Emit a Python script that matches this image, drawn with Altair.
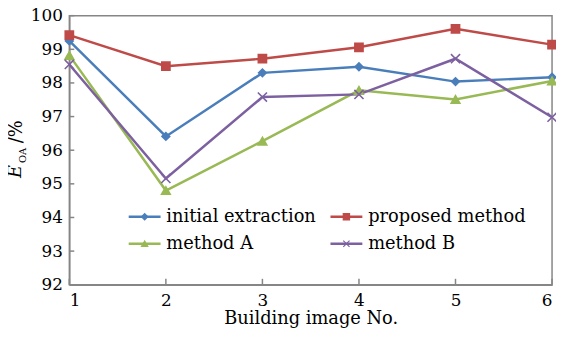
import altair as alt
import pandas as pd

image_no = [1, 2, 3, 4, 5, 6]
series_names = ["initial extraction", "proposed method", "method A", "method B"]
initial_extraction = [99.25, 96.41, 98.30, 98.48, 98.04, 98.17]
proposed_method = [99.42, 98.50, 98.72, 99.06, 99.61, 99.14]
method_a = [98.82, 94.80, 96.27, 97.78, 97.51, 98.06]
method_b = [98.55, 95.16, 97.58, 97.66, 98.72, 96.98]
y_ticks = [92, 93, 94, 95, 96, 97, 98, 99, 100]

colors = ["#4A7EBB", "#BE4B48", "#98B954", "#7D60A0"]
shapes = ["diamond", "square", "triangle-up", "M-1,-1L1,1M-1,1L1,-1"]
sizes = [60, 85, 70, 90]
FONT = "DejaVu Serif"
AXC = "#868686"

rows = []
for name, vals in zip(series_names, [initial_extraction, proposed_method, method_a, method_b]):
    for x, v in zip(image_no, vals):
        rows.append({"series": name, "x": x, "v": v})
df = pd.DataFrame(rows)

cscale = alt.Scale(domain=series_names, range=colors)
sscale = alt.Scale(domain=series_names, range=shapes)
zscale = alt.Scale(domain=series_names, range=sizes)

xs = alt.Scale(domain=[1, 6], nice=False)
ys = alt.Scale(domain=[92, 100], nice=False, zero=False)
x_axis = alt.Axis(values=image_no, format="d", title="Building image No.",
                  tickSize=0, labelPadding=8, titlePadding=1, grid=False,
                  labelOverlap=False, labelFont=FONT, labelFontSize=17,
                  labelColor="black", titleFont=FONT, titleFontSize=18,
                  titleFontWeight="normal", titleColor="black",
                  domainColor=AXC, domainWidth=1.5)
y_axis = alt.Axis(values=y_ticks, format="d", tickSize=0, title=None,
                  labelPadding=7, grid=False, labelOverlap=False,
                  labelFont=FONT, labelFontSize=17, labelColor="black",
                  domainColor=AXC, domainWidth=1.5)


def X(field):
    return alt.X(field, scale=xs, axis=x_axis)


def Y(field):
    return alt.Y(field, scale=ys, axis=y_axis)


lines = alt.Chart(df).mark_line(strokeWidth=2.5).encode(
    x=X("x:Q"), y=Y("v:Q"), color=alt.Color("series:N", scale=cscale, legend=None),
    detail="series:N")

points = alt.Chart(df).mark_point(filled=True, opacity=1, strokeWidth=1.6).encode(
    x=X("x:Q"), y=Y("v:Q"),
    fill=alt.Fill("series:N", scale=cscale, legend=None),
    stroke=alt.Stroke("series:N", scale=cscale, legend=None),
    shape=alt.Shape("series:N", scale=sscale, legend=None),
    size=alt.Size("series:N", scale=zscale, legend=None))

ytick = alt.Chart(pd.DataFrame({"v": y_ticks})).mark_rule(color=AXC, strokeWidth=1.5).encode(
    y=Y("v:Q"), x=alt.value(0), x2=alt.value(5))
xtick = alt.Chart(pd.DataFrame({"x": image_no})).mark_rule(color=AXC, strokeWidth=1.5).encode(
    x=X("x:Q"), y=alt.value(272), y2=alt.value(266))

# legend built from the series names (two columns, two rows)
leg_x0 = [1.615, 3.705]
leg_len = 0.33
leg_y = [94.02, 93.22]
leg_rows = []
for i, name in enumerate(series_names):
    c, r = i % 2, i // 2
    leg_rows.append({"series": name, "x": leg_x0[c], "lx1": leg_x0[c] + leg_len,
                     "lxm": leg_x0[c] + leg_len / 2, "lt": leg_x0[c] + leg_len + 0.06,
                     "v": leg_y[r]})
leg = pd.DataFrame(leg_rows)
leg_line = alt.Chart(leg).mark_rule(strokeWidth=2.5).encode(
    x=X("x:Q"), x2="lx1:Q", y=Y("v:Q"),
    color=alt.Color("series:N", scale=cscale, legend=None))
leg_pt = alt.Chart(leg).mark_point(filled=True, opacity=1, strokeWidth=1.2).encode(
    x=X("lxm:Q"), y=Y("v:Q"),
    fill=alt.Fill("series:N", scale=cscale, legend=None),
    stroke=alt.Stroke("series:N", scale=cscale, legend=None),
    shape=alt.Shape("series:N", scale=sscale, legend=None),
    size=alt.value(40))
leg_txt = alt.Chart(leg).mark_text(align="left", baseline="middle", font=FONT,
                                   fontSize=18, color="black").encode(
    x=X("lt:Q"), y=Y("v:Q"), text="series:N")

one = pd.DataFrame({"a": [0]})
t_e = alt.Chart(one).mark_text(text="E", angle=270, align="left", baseline="alphabetic",
                               font=FONT, fontSize=18, fontStyle="italic", color="black").encode(
    x=alt.value(-49), y=alt.value(164))
t_oa = alt.Chart(one).mark_text(text="OA", angle=270, align="left", baseline="alphabetic",
                                font=FONT, fontSize=10, color="black").encode(
    x=alt.value(-44), y=alt.value(149))
t_pc = alt.Chart(one).mark_text(text="/%", angle=270, align="left", baseline="alphabetic",
                                font=FONT, fontSize=18, color="black").encode(
    x=alt.value(-48), y=alt.value(129))

chart = alt.layer(lines, points, ytick, xtick, leg_line, leg_pt, leg_txt, t_e, t_oa, t_pc).properties(
    width=488, height=272,
    padding={"left": 62, "top": 6, "right": 4, "bottom": 45},
    autosize=alt.AutoSizeParams(type="none"),
    background="white",
).configure_view(stroke=AXC, strokeWidth=1.5)

chart.save("out.html", embed_options={"renderer": "svg", "actions": False})
